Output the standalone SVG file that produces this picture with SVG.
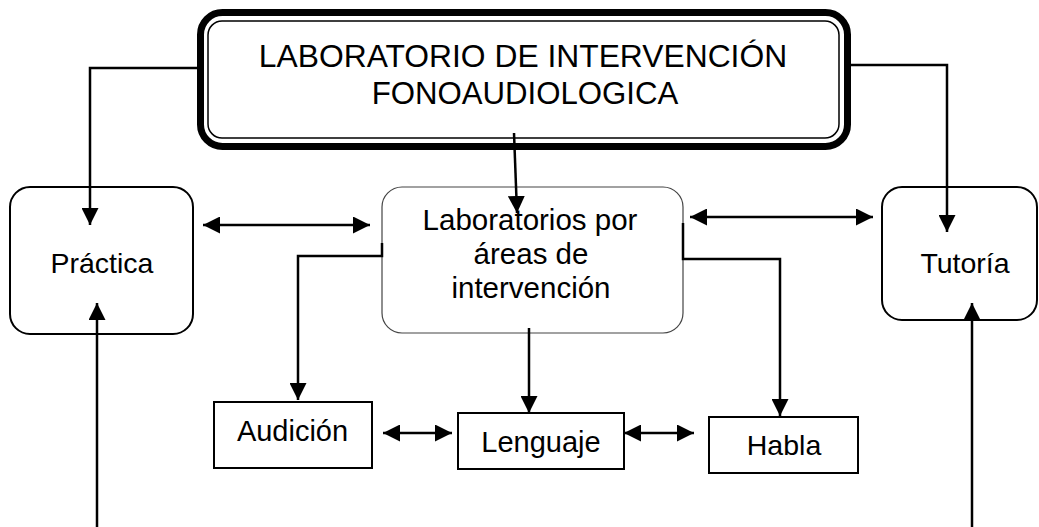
<svg xmlns="http://www.w3.org/2000/svg" width="1039" height="527" viewBox="0 0 1039 527">
<style>
text{font-family:"Liberation Sans",Arial,sans-serif;fill:#000;text-anchor:middle}
.rnd{fill:#fff;stroke:#000;stroke-width:2}
.box{fill:#fff;stroke:#000;stroke-width:2}
.con{fill:none;stroke:#000;stroke-width:2.5}
</style>
<defs>
<marker id="ah" markerUnits="userSpaceOnUse" markerWidth="17" markerHeight="17" refX="16" refY="8" orient="auto-start-reverse" viewBox="0 0 16 16">
<path d="M0,0 L16,8 L0,16 z" fill="#000"/>
</marker>
</defs>
<rect width="1039" height="527" fill="#fff"/>
<g id="title">
<rect x="200.5" y="12.5" width="647" height="134" rx="22" fill="#fff" stroke="#000" stroke-width="7"/>
<rect x="208" y="21" width="631" height="117" rx="14" fill="none" stroke="#000" stroke-width="1.5"/>
<text x="523" y="67" font-size="31.8">LABORATORIO DE INTERVENCIÓN</text>
<text x="525" y="104" font-size="31.2">FONOAUDIOLOGICA</text>
</g>
<g id="practica">
<rect class="rnd" x="10" y="187" width="183" height="147" rx="20"/>
<text x="102" y="273" font-size="28.5">Práctica</text>
</g>
<g id="laboratorios">
<rect x="382" y="187" width="301" height="146" rx="20" fill="#fff" stroke="#444" stroke-width="1.2"/>
<text x="530" y="230" font-size="29.5">Laboratorios por</text>
<text x="531" y="264" font-size="29.5">áreas de</text>
<text x="531" y="298" font-size="29.5">intervención</text>
</g>
<g id="tutoria">
<rect class="rnd" x="882" y="187" width="155" height="133" rx="20"/>
<text x="965" y="273" font-size="28.5">Tutoría</text>
</g>
<g id="audicion">
<rect class="box" x="214" y="402" width="158" height="66"/>
<text x="292.5" y="441" font-size="29">Audición</text>
</g>
<g id="lenguaje">
<rect class="box" x="458" y="413" width="166" height="56"/>
<text x="541" y="452" font-size="29">Lenguaje</text>
</g>
<g id="habla">
<rect class="box" x="709" y="417" width="149" height="56"/>
<text x="784" y="455" font-size="28.5">Habla</text>
</g>
<g id="connectors">
<path class="con" d="M197,68 H90 V225" marker-end="url(#ah)"/>
<path class="con" d="M851,65 H947 V232" marker-end="url(#ah)"/>
<path class="con" d="M514,133 L517,213" marker-end="url(#ah)"/>
<path class="con" d="M203,225 H370" marker-start="url(#ah)" marker-end="url(#ah)"/>
<path class="con" d="M690,217 H873" marker-start="url(#ah)" marker-end="url(#ah)"/>
<path class="con" d="M97,527 V303" marker-end="url(#ah)"/>
<path class="con" d="M972,527 V303" marker-end="url(#ah)"/>
<path class="con" d="M382,243 V256 H298 V400" marker-end="url(#ah)"/>
<path class="con" d="M683,223 V259 H780 V416" marker-end="url(#ah)"/>
<path class="con" d="M529,328 V413" marker-end="url(#ah)"/>
<path class="con" d="M383,433 H452" marker-start="url(#ah)" marker-end="url(#ah)"/>
<path class="con" d="M624,433 H694" marker-start="url(#ah)" marker-end="url(#ah)"/>
</g>
</svg>
